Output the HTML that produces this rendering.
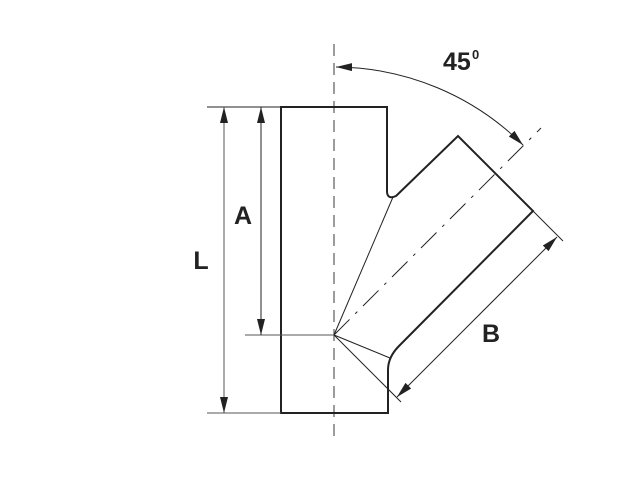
<!DOCTYPE html>
<html><head><meta charset="utf-8"><style>
html,body{margin:0;padding:0;background:#fff;width:641px;height:502px;overflow:hidden}
svg{display:block}
text{font-family:"Liberation Sans",sans-serif;font-weight:bold;fill:#222}
</style></head><body>
<svg width="641" height="502" viewBox="0 0 641 502" xmlns="http://www.w3.org/2000/svg">
<defs>
<marker id="ar" viewBox="0 0 16 8" refX="16" refY="4" markerWidth="16" markerHeight="8" markerUnits="userSpaceOnUse" orient="auto-start-reverse">
<path d="M0,0 L16,4 L0,8 z" fill="#222"/></marker>
</defs>
<line x1="334" y1="44" x2="334" y2="443" stroke="#666" stroke-width="1.3" stroke-dasharray="12,7"/>
<line x1="334" y1="335" x2="541" y2="128" stroke="#222" stroke-width="1" stroke-dasharray="22,8,3,8"/>
<path d="M281,107 L387,107 L387,191 Q387,200 396,196 L458,136 L533,211 L399,346 Q388,357 388,370 L388,413 L281,413 Z" fill="none" stroke="#222" stroke-width="2"/>
<g stroke="#222" stroke-width="1" fill="none">
<line x1="334" y1="335" x2="393" y2="197"/>
<line x1="334" y1="335" x2="390" y2="358"/>
<line x1="334" y1="335" x2="401" y2="402"/>
<line x1="533" y1="211" x2="563" y2="241"/>
<line x1="245" y1="335" x2="334" y2="335" stroke="#555"/>
<line x1="207" y1="107" x2="281" y2="107"/>
<line x1="207" y1="413" x2="281" y2="413" stroke="#555"/>
<line x1="224" y1="107" x2="224" y2="413" stroke="#555" marker-start="url(#ar)" marker-end="url(#ar)"/>
<line x1="261" y1="107" x2="261" y2="335" marker-start="url(#ar)" marker-end="url(#ar)"/>
<line x1="397" y1="397" x2="557" y2="237" marker-start="url(#ar)" marker-end="url(#ar)"/>
<path d="M336,67 A268,268 0 0 1 523,145" marker-start="url(#ar)" marker-end="url(#ar)"/>
</g>
<text x="243" y="224" font-size="25" text-anchor="middle">A</text>
<text x="201" y="269" font-size="25" text-anchor="middle">L</text>
<text x="491" y="342" font-size="25" text-anchor="middle">B</text>
<text x="443" y="70" font-size="25">45</text>
<text x="472" y="59" font-size="13">0</text>
</svg>
</body></html>
